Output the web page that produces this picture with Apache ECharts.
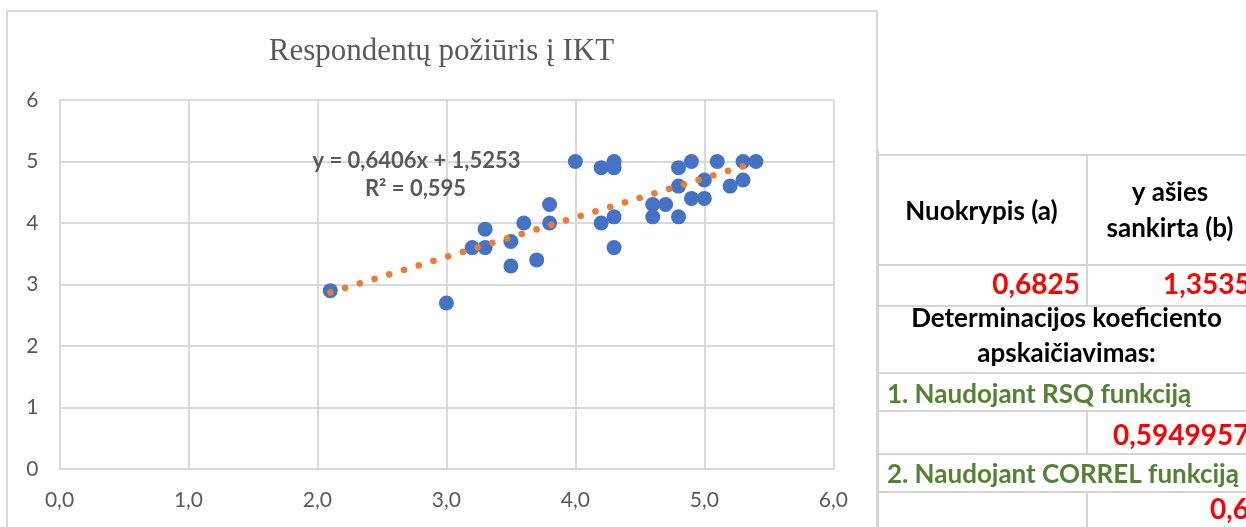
<!DOCTYPE html>
<html><head><meta charset="utf-8">
<script src="https://cdn.jsdelivr.net/npm/echarts@6/dist/echarts.min.js"></script>
<style>html,body{margin:0;padding:0;background:#fff;overflow:hidden}#c{width:1246px;height:527px}</style>
</head><body><div id="c"></div>
<script>
// ---- data ----
const xValues = [2.1, 3.0, 3.2, 3.3, 3.3, 3.5, 3.5, 3.6, 3.7, 3.8, 3.8, 4.0, 4.2, 4.3, 4.3, 4.2, 4.3, 4.3, 4.6, 4.6, 4.7, 4.8, 4.8, 4.8, 4.9, 4.9, 5.0, 5.0, 5.1, 5.2, 5.3, 5.3, 5.4];
const yValues = [2.9, 2.7, 3.6, 3.9, 3.6, 3.7, 3.3, 4.0, 3.4, 4.3, 4.0, 5.0, 4.9, 5.0, 4.9, 4.0, 4.1, 3.6, 4.3, 4.1, 4.3, 4.9, 4.6, 4.1, 5.0, 4.4, 4.7, 4.4, 5.0, 4.6, 5.0, 4.7, 5.0];
const xTickLabels = ['0,0', '1,0', '2,0', '3,0', '4,0', '5,0', '6,0'];
const yTickLabels = ['0', '1', '2', '3', '4', '5', '6'];
const trendSlope = 0.6406;
const trendIntercept = 1.5253;
const trendRange = [2.1, 5.4];
const chartTitle = 'Respondentų požiūris į IKT';
const equationText = 'y = 0,6406x + 1,5253';
const r2Text = 'R² = 0,595';
const tableTexts = {
  headA: 'Nuokrypis (a)', headB1: 'y ašies', headB2: 'sankirta (b)',
  valA: '0,6825', valB: '1,3535',
  det1: 'Determinacijos koeficiento', det2: 'apskaičiavimas:',
  rsq: '1. Naudojant RSQ funkciją', rsqVal: '0,5949957',
  correl: '2. Naudojant CORREL funkciją', correlVal: '0,6'
};

const points = xValues.map((x, i) => [x, yValues[i]]);
const trendData = trendRange.map(x => [x, trendSlope * x + trendIntercept]);

const GRID = '#D9D9D9';
const LBL = '#595959';
const TL = '#D4D4D4';
const font = 'Lato, "Open Sans", sans-serif';

function hline(y, x1, x2) {
  return { type: 'line', shape: { x1: x1, y1: y, x2: x2, y2: y }, style: { stroke: TL, lineWidth: 2 }, silent: true };
}
function vline(x, y1, y2) {
  return { type: 'line', shape: { x1: x, y1: y1, x2: x, y2: y2 }, style: { stroke: TL, lineWidth: 2 }, silent: true };
}
function txt(t, x, y, opts) {
  return { type: 'text', x: x, y: y, silent: true, z: 10,
    style: Object.assign({ text: t, fontFamily: font, fontWeight: 'bold', fontSize: 26, fill: '#000', textAlign: 'center', textVerticalAlign: 'middle' }, opts || {}) };
}

const chart = echarts.init(document.getElementById('c'), null, { renderer: 'canvas' });
chart.setOption({
  animation: false,
  backgroundColor: '#fff',
  grid: { left: 59.5, right: 412.7, top: 100, bottom: 58, containLabel: false },
  xAxis: {
    type: 'value', min: 0, max: 6, interval: 1,
    axisLine: { show: true, lineStyle: { color: GRID, width: 2 } },
    axisTick: { show: false },
    splitLine: { show: true, lineStyle: { color: GRID, width: 2 } },
    axisLabel: { color: LBL, fontFamily: font, fontSize: 21, margin: 21,
      formatter: v => xTickLabels[Math.round(v)] }
  },
  yAxis: {
    type: 'value', min: 0, max: 6, interval: 1,
    axisLine: { show: true, lineStyle: { color: GRID, width: 2 } },
    axisTick: { show: false },
    splitLine: { show: true, lineStyle: { color: GRID, width: 2 } },
    axisLabel: { color: LBL, fontFamily: font, fontSize: 21, margin: 21,
      formatter: v => yTickLabels[Math.round(v)] }
  },
  series: [
    { type: 'scatter', data: points, symbol: 'circle', symbolSize: 15,
      itemStyle: { color: '#4472C4', opacity: 1 }, z: 2 },
    { type: 'line', data: trendData, symbol: 'none', z: 3,
      lineStyle: { color: '#ED7D31', width: 6.5, type: [0.1, 15.3], cap: 'round' } }
  ],
  graphic: [
    { type: 'rect', shape: { x: 7, y: 11, width: 870, height: 540 }, style: { fill: 'none', stroke: GRID, lineWidth: 2 }, silent: true },
    txt(chartTitle, 441.5, 52, { fontFamily: '"Liberation Serif", "DejaVu Serif", serif', fontWeight: 'normal', fontSize: 31, fill: LBL }),
    txt(equationText, 416.5, 161, { fontSize: 22, fill: LBL }),
    txt(r2Text, 415.5, 189, { fontSize: 22, fill: LBL }),
    // table
    hline(155, 878, 1246), hline(265, 878, 1246), hline(306, 878, 1246),
    hline(373, 878, 1246), hline(411, 878, 1246), hline(454, 878, 1246), hline(492, 878, 1246),
    vline(1087, 155, 306), vline(1087, 411, 454), vline(1087, 492, 527),
    vline(878, 150, 527),
    txt(tableTexts.headA, 981.5, 211.5),
    txt(tableTexts.headB1, 1170, 192.5),
    txt(tableTexts.headB2, 1170, 229),
    txt(tableTexts.valA, 1080, 285, { fill: '#FF0000', fontSize: 28, textAlign: 'right' }),
    txt(tableTexts.valB, 1163, 285, { fill: '#FF0000', fontSize: 28, textAlign: 'left' }),
    txt(tableTexts.det1, 1066.5, 319),
    txt(tableTexts.det2, 1066.5, 354),
    txt(tableTexts.rsq, 887, 395, { fill: '#548235', textAlign: 'left' }),
    txt(tableTexts.rsqVal, 1113, 435.5, { fill: '#FF0000', fontSize: 28, textAlign: 'left' }),
    txt(tableTexts.correl, 887, 475, { fill: '#548235', textAlign: 'left' }),
    txt(tableTexts.correlVal, 1210, 510, { fill: '#FF0000', fontSize: 28, textAlign: 'left' })
  ]
});
</script>
</body></html>
